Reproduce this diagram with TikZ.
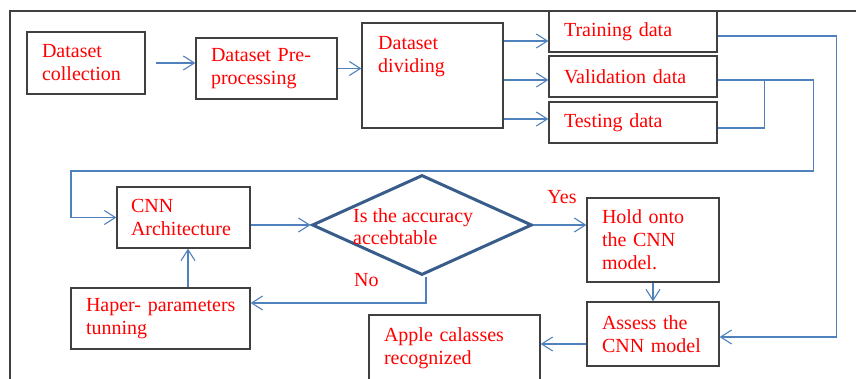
\documentclass[tikz,border=0pt]{standalone}
\usepackage{fontspec}
\setmainfont{Liberation Serif}
\usetikzlibrary{arrows.meta,shapes.geometric}

\definecolor{boxgray}{RGB}{64,64,64}
\definecolor{flowblue}{RGB}{79,129,189}
\definecolor{decblue}{RGB}{56,93,138}

\begin{document}
\begin{tikzpicture}[x=1pt,y=-1pt]
	\tikzstyle{every node}=[font=\rmfamily\fontsize{20}{23}\selectfont, text=red]
	\tikzstyle{box}=[draw=boxgray, line width=1.3pt, align=left, inner xsep=15pt, inner ysep=0pt]
	\tikzstyle{flow}=[draw=flowblue, line width=1.1pt, -{Straight Barb[length=11pt,width=14pt]}]
	\tikzstyle{link}=[draw=flowblue, line width=1.1pt]

	\useasboundingbox (0,0) rectangle (856,379);
	\draw[boxgray, line width=1.3pt] (10,400) -- (10,11) -- (870,11); % outer frame

	% first row
	\node[box, text width=88pt, minimum height=62pt] (collect) at (86,63) {Dataset\\collection};
	\node[box, text width=111pt, minimum height=61pt] (prep) at (266.5,68.5) {\mbox{Dataset Pre-}\\processing};
	\node[box, minimum width=141pt, minimum height=105pt] (divide) at (432.5,75.5) {};
	\node[anchor=north west, align=left, inner sep=0pt] (dividetext) at (378,36) {Dataset\\dividing};
	\node[box, text width=138pt, minimum height=41pt] (train) at (633,31.5) {Training data};
	\node[box, text width=138pt, minimum height=41pt] (valid) at (633,76.5) {Validation data};
	\node[box, text width=138pt, minimum height=41pt] (test) at (633,122.5) {Testing data};

	% second row
	\node[box, text width=105pt, inner xsep=14pt, minimum height=61pt] (cnn) at (183.5,217.5) {CNN\\Architecture};
	\node[diamond, draw=decblue, line width=3pt, minimum width=220pt, minimum height=100pt, inner sep=0pt] (check) at (422,225) {};
	\node[anchor=west, align=left, inner sep=0pt] (checktext) at (353,227) {Is the accuracy\\[-1pt]accebtable};
	\node[box, text width=102pt, minimum height=84pt] (hold) at (653,240) {Hold onto\\the CNN\\model.};
	\node[box, text width=102pt, minimum height=64pt] (assess) at (653,334) {Assess the\\\mbox{CNN model}};
	\node[box, text width=141pt, minimum height=66pt] (apple) at (454.5,348) {Apple calasses\\recognized};
	\node[box, text width=149pt, minimum height=61pt] (haper) at (160.5,318.5) {\mbox{Haper- parameters}\\tunning};

	% connectors
	\draw[flow] ([xshift=10pt]collect.east) -- (prep.west |- collect.east);
	\draw[flow] (prep.east) -- (prep.east -| divide.west);
	\draw[flow] ([yshift=-9.5pt]divide.east |- train.west) -- ([yshift=-9.5pt]train.west);
	\draw[flow] ([yshift=-3.5pt]divide.east |- valid.west) -- ([yshift=-3.5pt]valid.west);
	\draw[flow] ([yshift=3.5pt]divide.east |- test.west) -- ([yshift=3.5pt]test.west);
	\draw[flow] ([yshift=-4.5pt]train.east) -- ++(119,0) |- ([yshift=-3pt]assess.east);
	\draw[flow] ([yshift=-3.5pt]valid.east) -- ++(96,0) |- (71,171) |- (cnn.west);
	\draw[link] ([yshift=-5.5pt]test.east) -| ([xshift=47pt,yshift=-3.5pt]valid.east);
	\draw[flow] (cnn.east |- check.west) -- (check.west);
	\draw[flow] (check.east) -- (check.east -| hold.west) node[pos=0.54, above=17pt] (yes) {Yes};
	\draw[flow] (hold) -- (assess);
	\draw[flow] ([yshift=-10pt]assess.west) -- ([yshift=-10pt]assess.west -| apple.east);
	\draw[flow] ([xshift=4pt]check.south) |- ([yshift=15.5pt]haper.east) node[pos=0.67, above=12pt] (no) {No};
	\draw[flow] ([xshift=4.5pt]haper.north -| cnn.south) -- ([xshift=4.5pt]cnn.south);
\end{tikzpicture}
\end{document}
